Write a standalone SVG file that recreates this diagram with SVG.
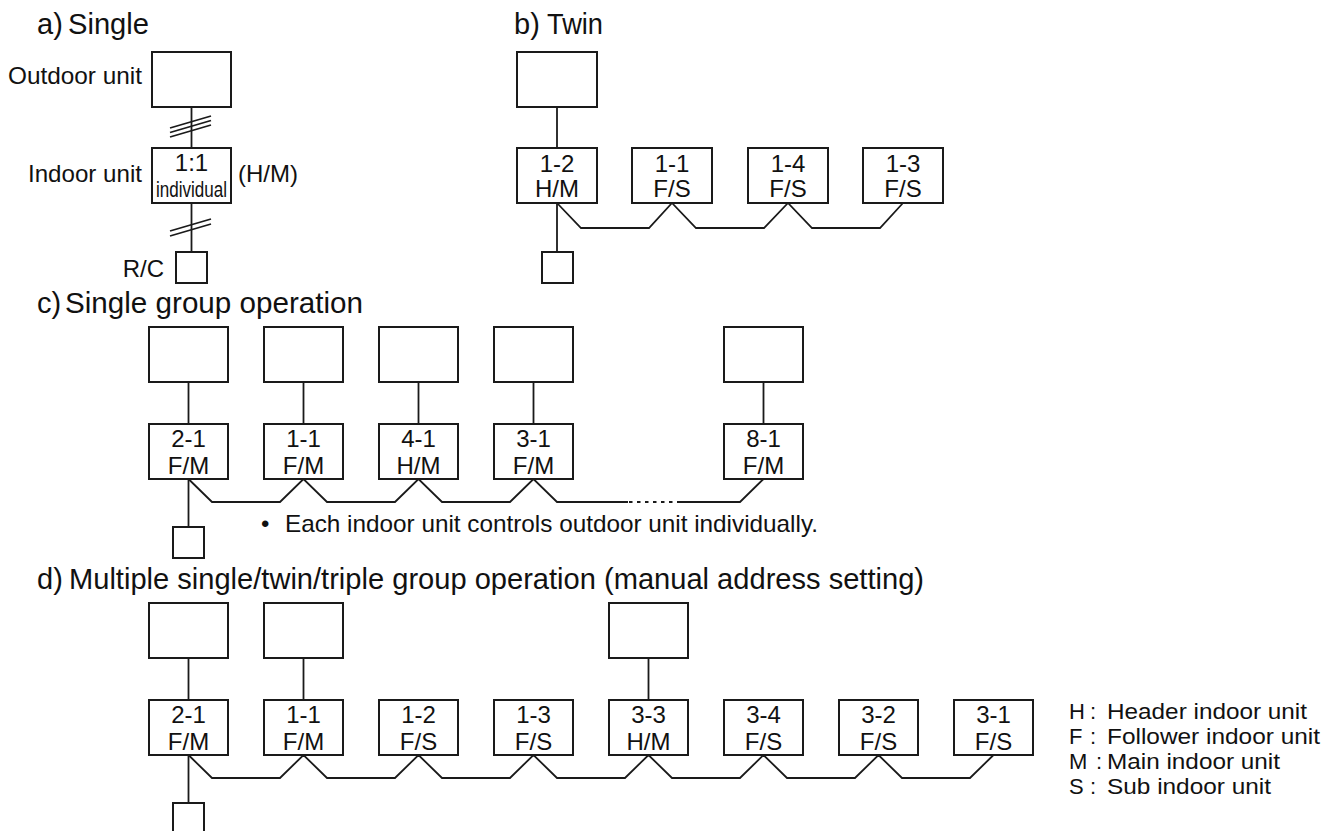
<svg xmlns="http://www.w3.org/2000/svg" width="1331" height="831" viewBox="0 0 1331 831">
<style>
.bx{fill:#fff;stroke:#1a1a1a;stroke-width:2}
.ln{fill:none;stroke:#1a1a1a;stroke-width:1.8}
.t{font-family:"Liberation Sans",Arial,Helvetica,sans-serif;fill:#111}
.h{font-size:29px}
.b{font-size:24px}
.l{font-size:24px;text-anchor:middle}
.s{font-size:22px;text-anchor:middle}
</style>
<rect width="1331" height="831" fill="#fff"/>

<!-- Headings -->
<g id="headings" class="t h">
<text x="37" y="34">a)</text><text x="68" y="34" textLength="81" lengthAdjust="spacingAndGlyphs">Single</text>
<text x="514" y="34">b)</text><text x="547" y="34" textLength="56" lengthAdjust="spacingAndGlyphs">Twin</text>
<text x="37" y="313">c)</text><text x="65" y="313" textLength="298" lengthAdjust="spacingAndGlyphs">Single group operation</text>
<text x="37" y="589">d)</text><text x="69" y="589" textLength="855" lengthAdjust="spacingAndGlyphs">Multiple single/twin/triple group operation (manual address setting)</text>
</g>

<!-- Connectors -->
<g id="connectors" class="ln">
<!-- a -->
<line x1="191.5" y1="107" x2="191.5" y2="148"/>
<line x1="191.5" y1="203" x2="191.5" y2="252"/>
<line x1="170" y1="128" x2="211" y2="116"/>
<line x1="170" y1="132.5" x2="211" y2="120.5"/>
<line x1="170" y1="137" x2="211" y2="125"/>
<line x1="170" y1="231" x2="211" y2="219"/>
<line x1="170" y1="236" x2="211" y2="224"/>
<!-- b -->
<line x1="557" y1="107" x2="557" y2="148"/>
<line x1="557" y1="203" x2="557" y2="252"/>
<polyline points="557,203 581,228 649,228 672,203 696,228 764,228 788,203 812,228 880,228 903,203"/>
<!-- c -->
<line x1="188.5" y1="382" x2="188.5" y2="424"/>
<line x1="303.5" y1="382" x2="303.5" y2="424"/>
<line x1="418.5" y1="382" x2="418.5" y2="424"/>
<line x1="533.5" y1="382" x2="533.5" y2="424"/>
<line x1="763.5" y1="382" x2="763.5" y2="424"/>
<line x1="188.5" y1="479" x2="188.5" y2="527"/>
<polyline points="188.5,479 212,502 280,502 303.5,479 327,502 395,502 418.5,479 442,502 510,502 533.5,479 557,502 628,502"/>
<line x1="629" y1="502" x2="680" y2="502" stroke-dasharray="3.5 4.5"/>
<polyline points="680,502 740,502 763.5,479"/>
<!-- d -->
<line x1="188.5" y1="658" x2="188.5" y2="700"/>
<line x1="303.5" y1="658" x2="303.5" y2="700"/>
<line x1="648.5" y1="658" x2="648.5" y2="700"/>
<line x1="188.5" y1="755" x2="188.5" y2="803"/>
<polyline points="188.5,755 212,778 280,778 303.5,755 327,778 395,778 418.5,755 442,778 510,778 533.5,755 557,778 625,778 648.5,755 672,778 740,778 763.5,755 787,778 855,778 878.5,755 902,778 970,778 993.5,755"/>
</g>

<!-- a) Single -->
<g id="a-outdoor"><rect class="bx" x="152" y="52" width="79" height="55"/></g>
<g id="a-indoor"><rect class="bx" x="152" y="148" width="79" height="55"/>
<text class="t l" x="191.5" y="171">1:1</text>
<text class="t s" x="191.5" y="197" textLength="71" lengthAdjust="spacingAndGlyphs">individual</text></g>
<g id="a-rc"><rect class="bx" x="176" y="252" width="31" height="31"/></g>
<g id="a-labels" class="t b">
<text x="142" y="84" text-anchor="end" textLength="134" lengthAdjust="spacingAndGlyphs">Outdoor unit</text>
<text x="142" y="182" text-anchor="end" textLength="114" lengthAdjust="spacingAndGlyphs">Indoor unit</text>
<text x="238" y="182">(H/M)</text>
<text x="164" y="277" text-anchor="end">R/C</text>
</g>

<!-- b) Twin -->
<g id="b-outdoor"><rect class="bx" x="517" y="52" width="80" height="55"/></g>
<g id="b-in1"><rect class="bx" x="517" y="148" width="80" height="55"/><text class="t l" x="557" y="172">1-2</text><text class="t l" x="557" y="197">H/M</text></g>
<g id="b-in2"><rect class="bx" x="632" y="148" width="80" height="55"/><text class="t l" x="672" y="172">1-1</text><text class="t l" x="672" y="197">F/S</text></g>
<g id="b-in3"><rect class="bx" x="748" y="148" width="80" height="55"/><text class="t l" x="788" y="172">1-4</text><text class="t l" x="788" y="197">F/S</text></g>
<g id="b-in4"><rect class="bx" x="863" y="148" width="80" height="55"/><text class="t l" x="903" y="172">1-3</text><text class="t l" x="903" y="197">F/S</text></g>
<g id="b-rc"><rect class="bx" x="542" y="252" width="31" height="31"/></g>

<!-- c) Single group operation -->
<g id="c-out1"><rect class="bx" x="149" y="327" width="79" height="55"/></g>
<g id="c-out2"><rect class="bx" x="264" y="327" width="79" height="55"/></g>
<g id="c-out3"><rect class="bx" x="379" y="327" width="79" height="55"/></g>
<g id="c-out4"><rect class="bx" x="494" y="327" width="79" height="55"/></g>
<g id="c-out5"><rect class="bx" x="724" y="327" width="79" height="55"/></g>
<g id="c-in1"><rect class="bx" x="149" y="424" width="79" height="55"/><text class="t l" x="188.5" y="447">2-1</text><text class="t l" x="188.5" y="474">F/M</text></g>
<g id="c-in2"><rect class="bx" x="264" y="424" width="79" height="55"/><text class="t l" x="303.5" y="447">1-1</text><text class="t l" x="303.5" y="474">F/M</text></g>
<g id="c-in3"><rect class="bx" x="379" y="424" width="79" height="55"/><text class="t l" x="418.5" y="447">4-1</text><text class="t l" x="418.5" y="474">H/M</text></g>
<g id="c-in4"><rect class="bx" x="494" y="424" width="79" height="55"/><text class="t l" x="533.5" y="447">3-1</text><text class="t l" x="533.5" y="474">F/M</text></g>
<g id="c-in5"><rect class="bx" x="724" y="424" width="79" height="55"/><text class="t l" x="763.5" y="447">8-1</text><text class="t l" x="763.5" y="474">F/M</text></g>
<g id="c-rc"><rect class="bx" x="173" y="527" width="31" height="31"/></g>
<g id="c-note" class="t b">
<text x="261" y="532">•</text>
<text x="285" y="532" textLength="533" lengthAdjust="spacingAndGlyphs">Each indoor unit controls outdoor unit individually.</text>
</g>

<!-- d) Multiple group operation -->
<g id="d-out1"><rect class="bx" x="149" y="603" width="79" height="55"/></g>
<g id="d-out2"><rect class="bx" x="264" y="603" width="79" height="55"/></g>
<g id="d-out3"><rect class="bx" x="609" y="603" width="79" height="55"/></g>
<g id="d-in1"><rect class="bx" x="149" y="700" width="79" height="55"/><text class="t l" x="188.5" y="723">2-1</text><text class="t l" x="188.5" y="750">F/M</text></g>
<g id="d-in2"><rect class="bx" x="264" y="700" width="79" height="55"/><text class="t l" x="303.5" y="723">1-1</text><text class="t l" x="303.5" y="750">F/M</text></g>
<g id="d-in3"><rect class="bx" x="379" y="700" width="79" height="55"/><text class="t l" x="418.5" y="723">1-2</text><text class="t l" x="418.5" y="750">F/S</text></g>
<g id="d-in4"><rect class="bx" x="494" y="700" width="79" height="55"/><text class="t l" x="533.5" y="723">1-3</text><text class="t l" x="533.5" y="750">F/S</text></g>
<g id="d-in5"><rect class="bx" x="609" y="700" width="79" height="55"/><text class="t l" x="648.5" y="723">3-3</text><text class="t l" x="648.5" y="750">H/M</text></g>
<g id="d-in6"><rect class="bx" x="724" y="700" width="79" height="55"/><text class="t l" x="763.5" y="723">3-4</text><text class="t l" x="763.5" y="750">F/S</text></g>
<g id="d-in7"><rect class="bx" x="839" y="700" width="79" height="55"/><text class="t l" x="878.5" y="723">3-2</text><text class="t l" x="878.5" y="750">F/S</text></g>
<g id="d-in8"><rect class="bx" x="954" y="700" width="79" height="55"/><text class="t l" x="993.5" y="723">3-1</text><text class="t l" x="993.5" y="750">F/S</text></g>
<g id="d-rc"><rect class="bx" x="173" y="803" width="31" height="34"/></g>

<!-- Legend -->
<g id="legend" class="t" font-size="22">
<text x="1069" y="719">H</text><text x="1090" y="719">:</text><text x="1107" y="719" textLength="200" lengthAdjust="spacingAndGlyphs">Header indoor unit</text>
<text x="1069" y="744">F</text><text x="1090" y="744">:</text><text x="1107" y="744" textLength="213" lengthAdjust="spacingAndGlyphs">Follower indoor unit</text>
<text x="1069" y="769">M</text><text x="1096" y="769">:</text><text x="1107" y="769" textLength="173" lengthAdjust="spacingAndGlyphs">Main indoor unit</text>
<text x="1069" y="794">S</text><text x="1090" y="794">:</text><text x="1107" y="794" textLength="164" lengthAdjust="spacingAndGlyphs">Sub indoor unit</text>
</g>
</svg>
